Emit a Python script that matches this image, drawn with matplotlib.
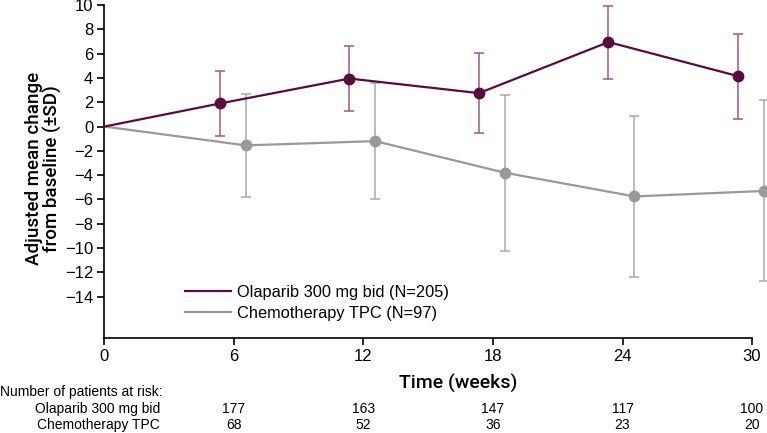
import numpy as np
import matplotlib.pyplot as plt

plt.rcParams['font.family'] = ['Liberation Sans', 'DejaVu Sans']

# weeks of assessment (0 = baseline)
weeks = [0, 6, 12, 18, 24, 30]

olaparib_mean = [0, 1.9, 3.95, 2.75, 6.95, 4.15]
olaparib_sd = [0, 2.7, 2.7, 3.3, 3.0, 3.5]

chemo_mean = [0, -1.55, -1.2, -3.8, -5.75, -5.3]
chemo_sd = [0, 4.25, 4.8, 6.4, 6.6, 7.45]

risk_weeks = [6, 12, 18, 24, 30]
risk_olaparib = [177, 163, 147, 117, 100]
risk_chemo = [68, 52, 36, 23, 20]

OLA_COLOR = "#5b0b3d"
OLA_ERR = "#9c5a83"
CHEMO_COLOR = "#999999"
CHEMO_ERR = "#aaaaaa"

LABEL_FONT = ['Roboto', 'Liberation Sans']

fig = plt.figure(figsize=(7.67, 4.33), dpi=100)
ax = fig.add_axes([0.1362, 0.2194, 0.8443, 0.769])

# points are shifted a little either side of the visit week
ola_x = np.array(weeks, dtype=float)
ola_x[1:] -= 0.65
chemo_x = np.array(weeks, dtype=float)
chemo_x[1:] += 0.55

ax.plot(ola_x, olaparib_mean, color=OLA_COLOR, lw=1.6, zorder=4, clip_on=False,
        label="Olaparib 300 mg bid (N=205)")
ax.errorbar(ola_x[1:], olaparib_mean[1:], yerr=olaparib_sd[1:], fmt="o",
            color=OLA_COLOR, ecolor=OLA_ERR, elinewidth=1.1, capsize=3.5,
            capthick=1.1, markersize=7.5, zorder=5, clip_on=False)

ax.plot(chemo_x, chemo_mean, color=CHEMO_COLOR, lw=1.6, zorder=2, clip_on=False,
        label="Chemotherapy TPC (N=97)")
eb = ax.errorbar(chemo_x[1:], chemo_mean[1:], yerr=chemo_sd[1:], fmt="o",
                 color=CHEMO_COLOR, ecolor=CHEMO_ERR, elinewidth=1.1, capsize=3.5,
                 capthick=1.1, markersize=7.5, zorder=3, clip_on=False)
for artist in eb.lines[1] + eb.lines[2]:
    artist.set_clip_on(False)

ax.set_xlim(0, 30)
ax.set_ylim(-17.4, 10)
ax.set_xticks(weeks)
ax.set_yticks(np.arange(-14, 11, 2))
ax.set_yticklabels([str(v).replace("-", "\u2212") for v in range(-14, 11, 2)])
ax.tick_params(labelsize=12, length=5, width=1.2, pad=3)

for side in ["top", "right"]:
    ax.spines[side].set_visible(False)
ax.spines["left"].set_linewidth(1.2)
ax.spines["bottom"].set_linewidth(1.2)

ax.set_ylabel("Adjusted mean change\nfrom baseline (\u00b1SD)", fontsize=13.5,
              family=LABEL_FONT, fontweight="medium", linespacing=0.95)
ax.yaxis.set_label_coords(-0.066, 0.51)
fig.text(458 / 767, 1 - 383 / 433, "Time (weeks)", fontsize=14,
         family=LABEL_FONT, fontweight="medium", ha="center", va="center")

ax.legend(loc="upper left", bbox_to_anchor=(0.114, 0.18), frameon=False,
          fontsize=11.8, handlelength=2.8, handletextpad=0.4,
          labelspacing=0.4, borderaxespad=0)

# number at risk table
RISK_FS = 10
fig.text(0.0, 1 - 392 / 433, "Number of patients at risk:", fontsize=RISK_FS,
         ha="left", va="center")
fig.text(160 / 767, 1 - 409 / 433, "Olaparib 300 mg bid", fontsize=RISK_FS,
         ha="right", va="center")
fig.text(160 / 767, 1 - 425 / 433, "Chemotherapy TPC", fontsize=RISK_FS,
         ha="right", va="center")
for w, a, b in zip(risk_weeks, risk_olaparib, risk_chemo):
    xf = ax.transData.transform((w, 0))[0] / fig.bbox.width
    fig.text(xf, 1 - 409 / 433, str(a), fontsize=RISK_FS, ha="center", va="center")
    fig.text(xf, 1 - 425 / 433, str(b), fontsize=RISK_FS, ha="center", va="center")

fig.savefig("out.png", dpi=100)
